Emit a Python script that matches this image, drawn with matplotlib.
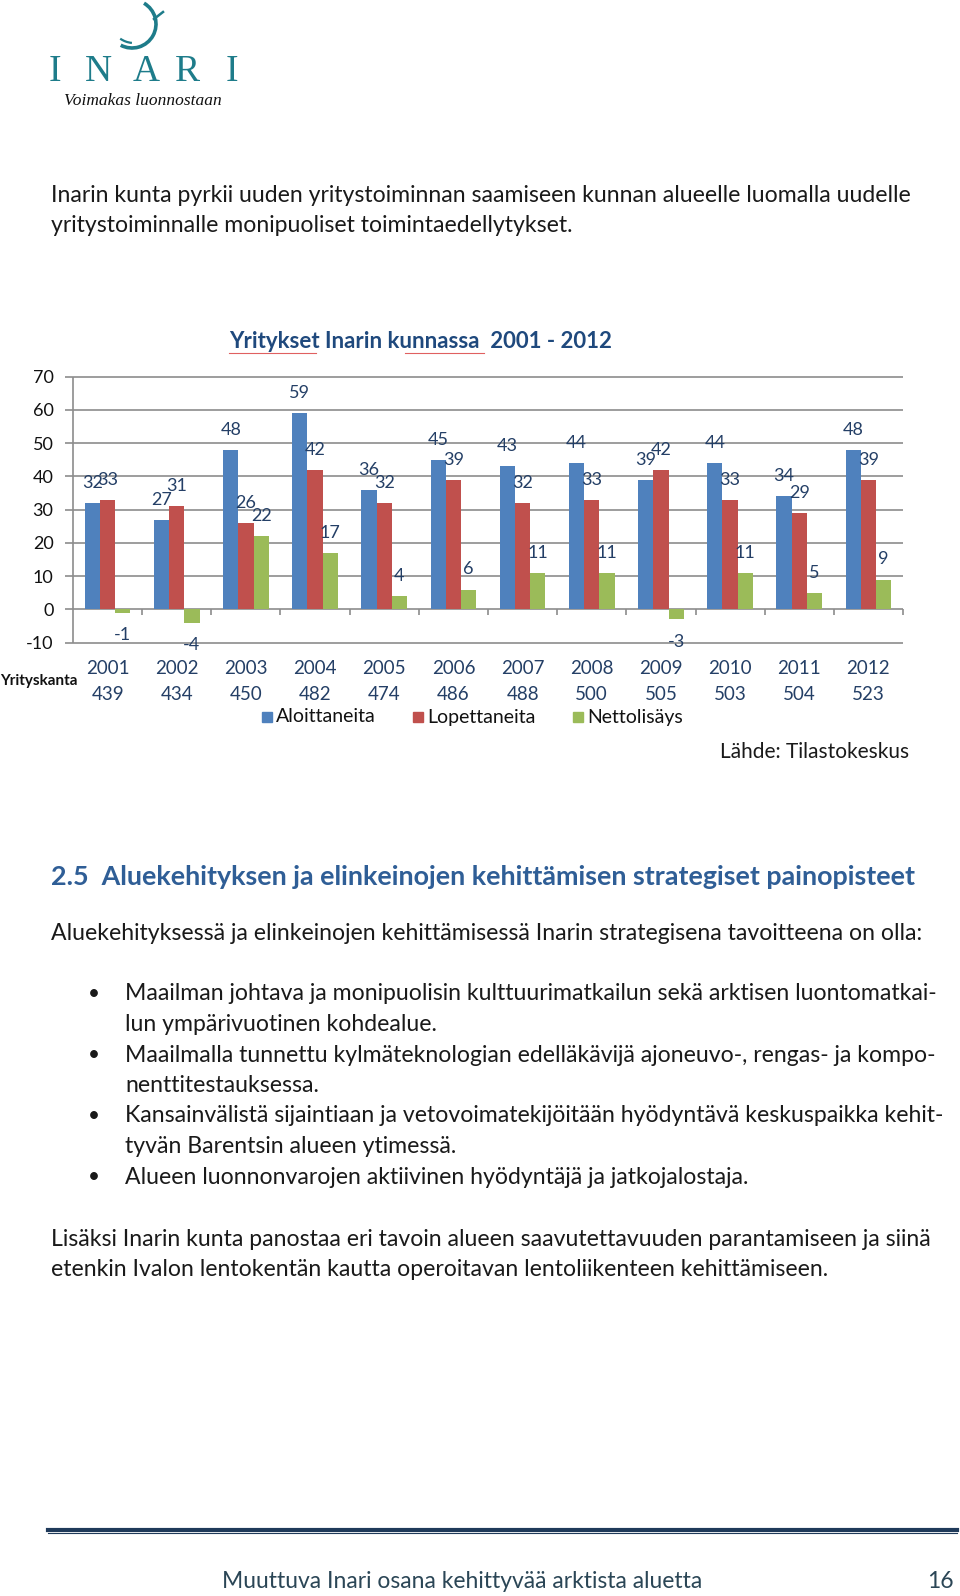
import matplotlib
matplotlib.use("Agg")
from matplotlib import pyplot as plt
from matplotlib.patches import Rectangle, Arc
from matplotlib.transforms import blended_transform_factory
import numpy as np

plt.rcParams['font.family'] = ['Lato', 'DejaVu Sans']
plt.rcParams['axes.unicode_minus'] = False

# chart data
years = ['2001', '2002', '2003', '2004', '2005', '2006', '2007', '2008', '2009', '2010', '2011', '2012']
kanta = [439, 434, 450, 482, 474, 486, 488, 500, 505, 503, 504, 523]
aloittaneita = [32, 27, 48, 59, 36, 45, 43, 44, 39, 44, 34, 48]
lopettaneita = [33, 31, 26, 42, 32, 39, 32, 33, 42, 33, 29, 39]
nettolisays = [-1, -4, 22, 17, 4, 6, 11, 11, -3, 11, 5, 9]
series_names = ['Aloittaneita', 'Lopettaneita', 'Nettolisäys']

# page text
intro = ["Inarin kunta pyrkii uuden yritystoiminnan saamiseen kunnan alueelle luomalla uudelle",
         "yritystoiminnalle monipuoliset toimintaedellytykset."]
heading = "2.5  Aluekehityksen ja elinkeinojen kehittämisen strategiset painopisteet"
lead = "Aluekehityksessä ja elinkeinojen kehittämisessä Inarin strategisena tavoitteena on olla:"
bullets = [["Maailman johtava ja monipuolisin kulttuurimatkailun sekä arktisen luontomatkai-",
            "lun ympärivuotinen kohdealue."],
           ["Maailmalla tunnettu kylmäteknologian edelläkävijä ajoneuvo-, rengas- ja kompo-",
            "nenttitestauksessa."],
           ["Kansainvälistä sijaintiaan ja vetovoimatekijöitään hyödyntävä keskuspaikka kehit-",
            "tyvän Barentsin alueen ytimessä."],
           ["Alueen luonnonvarojen aktiivinen hyödyntäjä ja jatkojalostaja."]]
outro = ["Lisäksi Inarin kunta panostaa eri tavoin alueen saavutettavuuden parantamiseen ja siinä",
         "etenkin Ivalon lentokentän kautta operoitavan lentoliikenteen kehittämiseen."]

W, H = 960, 1596
fig = plt.figure(figsize=(W / 100, H / 100), dpi=100)

# page layer in pixel coordinates
page = fig.add_axes([0, 0, 1, 1])
page.set_xlim(0, W)
page.set_ylim(H, 0)
page.axis('off')

# logo
teal = '#1E7C8A'
for ch, x in zip("INARI", [55, 98, 146, 187, 232]):
    page.text(x, 72, ch, color=teal, fontsize=27, family='Liberation Serif', ha='center', va='center')
page.add_patch(Arc((132, 24), 48, 48, theta1=-60, theta2=118, color=teal, lw=2.6))
page.add_patch(Arc((134, 19), 48, 48, theta1=95, theta2=125, color=teal, lw=1.6))
page.plot([154, 163], [19, 12], color=teal, lw=1.8)
page.text(143, 101, "Voimakas luonnostaan", fontsize=12.5, family='Liberation Serif',
          style='italic', ha='center', va='center', color='#111111')

body = '#1a1a1a'
fs = 16.6
page.text(51, 196, intro[0], fontsize=fs, color=body, va='center')
page.text(51, 226, intro[1], fontsize=fs, color=body, va='center')

# chart title
page.text(229, 342, "Yritykset Inarin kunnassa  2001 - 2012", fontsize=16, fontweight='bold',
          color='#1F497D', va='center')
page.plot([229, 316], [353, 353], color='#E06060', lw=0.8)
page.plot([405, 484], [353, 353], color='#E06060', lw=0.8)

# chart axes
ax = fig.add_axes([73 / W, 1 - 642.7 / H, 830 / W, 266 / H])
ax.set_xlim(-0.5, 11.5)
ax.set_ylim(-10, 70)
for s in ax.spines.values():
    s.set_visible(False)
grid_col = '#8C8C8C'
ax.hlines(np.arange(-10, 71, 10), -0.5, 11.5, color=grid_col, lw=1.2, clip_on=False, zorder=0)
ax.vlines(-0.5, -10, 70, color=grid_col, lw=1.2, clip_on=False, zorder=0)
ax.vlines(np.arange(0.5, 11.6, 1), -1.8, 0, color=grid_col, lw=1.2, clip_on=False)
ax.set_yticks(np.arange(-10, 71, 10))
ax.tick_params(axis='y', length=6, color=grid_col, width=1.2, pad=8, labelsize=13, labelcolor='#111111')
ax.set_xticks([])

colors = ['#4F81BD', '#C0504D', '#9BBB59']
offsets = [-0.22, 0, 0.22]
lab_col = '#243F66'
x = np.arange(len(years))
for vals, c, off in zip([aloittaneita, lopettaneita, nettolisays], colors, offsets):
    ax.bar(x + off, vals, width=0.22, color=c, zorder=2)
    for xi, v in zip(x + off, vals):
        dy = 14.5 if v >= 0 else -16
        ax.annotate(str(v), (xi, v), xytext=(0, dy), textcoords='offset points', ha='center',
                    va='center', fontsize=13, color=lab_col)

tr = blended_transform_factory(ax.transData, fig.transFigure)
for i, (yr, k) in enumerate(zip(years, kanta)):
    ax.text(i, 1 - 669 / H, yr, transform=tr, ha='center', va='center', fontsize=13.5, color=lab_col)
    ax.text(i, 1 - 694 / H, str(k), transform=tr, ha='center', va='center', fontsize=13.5, color=lab_col)
page.text(0, 681, "Yrityskanta", fontsize=11, fontweight='bold', va='center', color='#111111')

# legend
for name, c, lx in zip(series_names, colors, [262, 413, 573]):
    page.add_patch(Rectangle((lx, 712), 10, 10, color=c))
    page.text(lx + 14, 717, name, fontsize=14, va='center', color='#111111')

page.text(720, 752, "Lähde: Tilastokeskus", fontsize=15, va='center', color=body)

# section text
page.text(51, 877, heading, fontsize=19.4, fontweight='bold', color='#2F5E96', va='center')
page.text(51, 933, lead, fontsize=fs, color=body, va='center')
y = 994
for b in bullets:
    page.text(94, y, "•", fontsize=15, color=body, ha='center', va='center')
    for line in b:
        page.text(125, y, line, fontsize=fs, color=body, va='center')
        y += 30.5
y = 1239
for line in outro:
    page.text(51, y, line, fontsize=fs, color=body, va='center')
    y += 30

# footer
page.plot([48, 957], [1529.5, 1529.5], color='#1F3A5A', lw=3)
page.plot([48, 957], [1533, 1533], color='#1F3A5A', lw=0.8)
page.text(222, 1581, "Muuttuva Inari osana kehittyvää arktista aluetta", fontsize=16.5,
          color='#2B4656', va='center')
page.text(954, 1581, "16", fontsize=16.5, color='#2B4656', va='center', ha='right')

fig.savefig("out.png", dpi=100)
